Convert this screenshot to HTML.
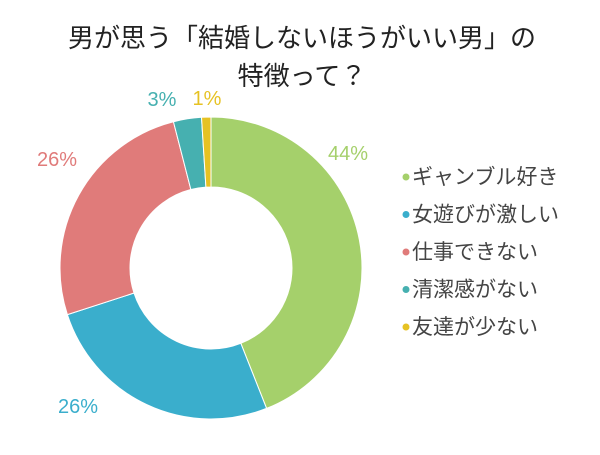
<!DOCTYPE html>
<html><head><meta charset="utf-8">
<style>
body{margin:0;background:#fff;width:600px;height:450px;overflow:hidden;font-family:"Liberation Sans","Noto Sans CJK JP",sans-serif;}
svg text{font-family:"Liberation Sans","Noto Sans CJK JP",sans-serif;}
</style></head>
<body>
<svg id="chart" width="600" height="450" xmlns="http://www.w3.org/2000/svg">
<text x="302" y="47" text-anchor="middle" font-size="26" fill="#222">男が思う「結婚しないほうがいい男」の</text>
<text x="302" y="85" text-anchor="middle" font-size="26" fill="#222">特徴って？</text>
<g id="slices"></g><g id="labels"></g><g id="legend"></g>
</svg>
<script>
const categories=["ギャンブル好き","女遊びが激しい","仕事できない","清潔感がない","友達が少ない"];
const values=[44,26,26,3,1];
const colors=["#a5d06b","#3aaecc","#e07b7a","#46b0b0","#e6c223"];
const labelXY=[[348,160],[78,413],[57,166],[162,106],[207,105]];
const cx=211,cy=268,R=151,r=81;
const total=values.reduce((a,b)=>a+b,0);
const ns="http://www.w3.org/2000/svg";
function pt(a,rad){return [cx+rad*Math.sin(a),cy-rad*Math.cos(a)];}
let acc=0;
const sg=document.getElementById('slices'),lg=document.getElementById('labels'),leg=document.getElementById('legend');
values.forEach((v,i)=>{
 const a0=acc/total*2*Math.PI; acc+=v; const a1=acc/total*2*Math.PI;
 const large=(a1-a0)>Math.PI?1:0;
 const [x0,y0]=pt(a0,R),[x1,y1]=pt(a1,R),[x2,y2]=pt(a1,r),[x3,y3]=pt(a0,r);
 const p=document.createElementNS(ns,'path');
 p.setAttribute('d',`M${x0},${y0}A${R},${R} 0 ${large} 1 ${x1},${y1}L${x2},${y2}A${r},${r} 0 ${large} 0 ${x3},${y3}Z`);
 p.setAttribute('fill',colors[i]);p.setAttribute('stroke','#fff');p.setAttribute('stroke-width','1');
 
 
 sg.appendChild(p);
 const t=document.createElementNS(ns,'text');
 t.setAttribute('x',labelXY[i][0]);t.setAttribute('y',labelXY[i][1]);
 t.setAttribute('text-anchor','middle');
 t.setAttribute('font-size','20');t.setAttribute('fill',colors[i]);
 t.textContent=v+'%';
 
 
 lg.appendChild(t);
 const y=176+i*37.5;
 const c=document.createElementNS(ns,'circle');
 c.setAttribute('cx',406);c.setAttribute('cy',y+1);c.setAttribute('r',3.5);c.setAttribute('fill',colors[i]);
 
 
 leg.appendChild(c);
 const lt=document.createElementNS(ns,'text');
 lt.setAttribute('x',412);lt.setAttribute('y',y+8);lt.setAttribute('font-size','21');lt.setAttribute('fill','#444');
 lt.textContent=categories[i];
 
 
 leg.appendChild(lt);
});
</script>
</body></html>
